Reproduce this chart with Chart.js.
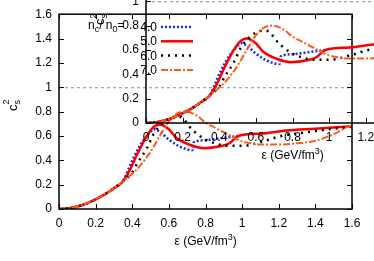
<!DOCTYPE html>
<html lang="en">
<head>
<meta charset="UTF-8">
<title>cs2 vs energy density</title>
<script src="https://cdn.jsdelivr.net/npm/chart.js"></script>
<style>
  body { margin: 0; background: #fff; }
  #wrap { position: relative; width: 374px; height: 261px; overflow: hidden; background: #fff; }
  #wrap canvas { position: absolute; }
  #mainChart { left: 0; top: 0; }
  /* the inset is the same plot, shifted up and right */
  #insetChart { left: 87px; top: -86px; }
</style>
</head>
<body>
<div id="wrap">
  <canvas id="mainChart" width="374" height="261"></canvas>
  <canvas id="insetChart" width="374" height="261"></canvas>
</div>
<script>
// low density part, the same for every n_c/n_0
const epsCommon = [0, 0.05, 0.1, 0.15, 0.2, 0.25, 0.3, 0.35];
const csCommon  = [0, 0.005, 0.02, 0.045, 0.08, 0.12, 0.17, 0.23];

// n_c/n_0 = 4.0
const eps40 = [0.38, 0.40, 0.45, 0.50, 0.52, 0.55, 0.60, 0.65, 0.70, 0.73, 0.735, 0.80, 0.90, 0.98];
const cs40  = [0.33, 0.40, 0.54, 0.635, 0.655, 0.635, 0.57, 0.52, 0.49, 0.485, 0.545, 0.565, 0.585, 0.60];
// n_c/n_0 = 5.0
const eps50 = [0.39, 0.43, 0.48, 0.51, 0.55, 0.60, 0.64, 0.71, 0.79, 0.88, 0.93, 0.98, 1.11, 1.24, 1.4, 1.6];
const cs50  = [0.33, 0.46, 0.60, 0.665, 0.695, 0.655, 0.585, 0.53, 0.50, 0.515, 0.54, 0.60, 0.62, 0.645, 0.66, 0.68];
// n_c/n_0 = 6.0
const eps60 = [0.40, 0.43, 0.48, 0.52, 0.57, 0.61, 0.65, 0.68, 0.71, 0.76, 0.80, 0.86, 0.91, 0.98, 1.04, 1.1, 1.15, 1.2, 1.3, 1.4, 1.5, 1.6];
const cs60  = [0.30, 0.38, 0.50, 0.625, 0.71, 0.75, 0.76, 0.74, 0.68, 0.61, 0.57, 0.535, 0.52, 0.52, 0.525, 0.55, 0.57, 0.595, 0.62, 0.64, 0.66, 0.675];
// n_c/n_0 = 7.0
const eps70 = [0.40, 0.44, 0.50, 0.55, 0.60, 0.64, 0.69, 0.75, 0.80, 0.85, 0.90, 0.95, 0.99, 1.05, 1.1, 1.2, 1.3, 1.4, 1.46, 1.52, 1.57, 1.6];
const cs70  = [0.29, 0.35, 0.47, 0.60, 0.72, 0.78, 0.80, 0.77, 0.71, 0.67, 0.63, 0.59, 0.56, 0.54, 0.53, 0.53, 0.54, 0.56, 0.59, 0.63, 0.67, 0.685];

const keyLabels = ['4.0', '5.0', '6.0', '7.0'];
const xTicks = [0, 0.2, 0.4, 0.6, 0.8, 1, 1.2, 1.4, 1.6];
const yTicks = [0, 0.2, 0.4, 0.6, 0.8, 1, 1.2, 1.4, 1.6];

const FONT = '"Liberation Sans", Arial, sans-serif';
const styles = [
  { color: 'rgb(25,40,245)', width: 2.5, dash: [2, 2] },
  { color: 'rgb(250,0,0)', width: 2.5, dash: [] },
  { color: 'rgb(0,0,0)', width: 2.5, dash: [2, 5] },
  { color: 'rgb(255,90,25)', width: 2, dash: [7, 2, 2, 2] }
];

function points(xs, ys) {
  const xAll = epsCommon.concat(xs), yAll = csCommon.concat(ys);
  return xAll.map((x, i) => ({ x: x, y: yAll[i] }));
}

function makeDatasets() {
  const sets = [[eps40, cs40], [eps50, cs50], [eps60, cs60], [eps70, cs70]];
  return sets.map((s, i) => ({
    label: keyLabels[i],
    data: points(s[0], s[1]),
    borderColor: styles[i].color,
    borderWidth: styles[i].width,
    borderDash: styles[i].dash,
    borderCapStyle: 'butt',
    pointRadius: 0,
    cubicInterpolationMode: 'monotone',
    fill: false,
    order: 4 - i
  }));
}

function fmt(v) { return String(+v.toFixed(1)); }

// draws text with a sub/superscript piece, returns the x after it
function piece(ctx, txt, x, y, size, shift) {
  ctx.font = size + 'px ' + FONT;
  ctx.fillText(txt, x, y + shift);
  return x + ctx.measureText(txt).width;
}

const frame = {
  id: 'frame',
  beforeDatasetsDraw(chart) {
    const ctx = chart.ctx, a = chart.chartArea;
    const y1 = chart.scales.y.getPixelForValue(1);
    ctx.save();
    ctx.strokeStyle = '#8c8c8c';
    ctx.lineWidth = 1;
    ctx.setLineDash([3, 3]);
    ctx.beginPath();
    ctx.moveTo(a.left, y1 + 0.5);
    ctx.lineTo(a.right, y1 + 0.5);
    ctx.stroke();
    ctx.restore();
  },
  afterDatasetsDraw(chart, args, opts) {
    const ctx = chart.ctx, a = chart.chartArea;
    const xs = chart.scales.x, ys = chart.scales.y;
    ctx.save();
    ctx.strokeStyle = '#000';
    ctx.lineWidth = 1.5;
    ctx.setLineDash([]);
    ctx.strokeRect(a.left, a.top, a.right - a.left, a.bottom - a.top);
    ctx.lineWidth = 1;
    ctx.beginPath();
    xTicks.forEach(v => {
      const px = Math.round(xs.getPixelForValue(v)) + 0.5;
      ctx.moveTo(px, a.bottom); ctx.lineTo(px, a.bottom - 5);
      ctx.moveTo(px, a.top); ctx.lineTo(px, a.top + 5);
    });
    yTicks.forEach(v => {
      const py = Math.round(ys.getPixelForValue(v)) + 0.5;
      ctx.moveTo(a.left, py); ctx.lineTo(a.left + 5, py);
      ctx.moveTo(a.right, py); ctx.lineTo(a.right - 5, py);
    });
    ctx.stroke();

    // axis titles
    ctx.fillStyle = '#000';
    ctx.textBaseline = 'alphabetic';
    ctx.textAlign = 'left';
    let x = (a.left + a.right) / 2 - 31;
    const yb = a.bottom + 36;
    x = piece(ctx, '\u03b5 (GeV/fm', x, yb, 12, 0);
    x = piece(ctx, '3', x, yb, 9, -5);
    piece(ctx, ')', x, yb, 12, 0);

    ctx.save();
    ctx.translate(17, 111);
    ctx.rotate(-Math.PI / 2);
    let t = piece(ctx, 'c', 0, 0, 13, 0);
    piece(ctx, 's', t, 0, 9, 3);
    piece(ctx, '2', t, 0, 9, -8);
    ctx.restore();

    // key
    if (opts.key) {
      let kx = 88;
      const ky = 29;
      kx = piece(ctx, 'n', kx, ky, 12, 0);
      kx = piece(ctx, 'c', kx, ky, 9, 3);
      kx = piece(ctx, '/ n', kx, ky, 12, 0);
      kx = piece(ctx, '0', kx, ky, 9, 3);
      piece(ctx, '=', kx, ky, 12, 0);
      ctx.font = '12px ' + FONT;
      ctx.textAlign = 'right';
      keyLabels.forEach((lab, i) => {
        const rowY = 27 + i * 14.3;
        ctx.fillText(lab, 157, rowY + 4);
        ctx.strokeStyle = styles[i].color;
        ctx.lineWidth = styles[i].width;
        ctx.setLineDash(styles[i].dash);
        ctx.beginPath();
        ctx.moveTo(161, rowY);
        ctx.lineTo(193, rowY);
        ctx.stroke();
      });
    }
    ctx.restore();
  }
};

function makeChart(id, withKey) {
  return new Chart(document.getElementById(id), {
    type: 'line',
    data: { datasets: makeDatasets() },
    options: {
      responsive: false,
      animation: false,
      devicePixelRatio: 1,
      layout: { padding: { top: 14, right: 22, left: 0, bottom: 0 } },
      plugins: { legend: { display: false }, tooltip: { enabled: false }, frame: { key: withKey } },
      scales: {
        x: {
          type: 'linear', min: 0, max: 1.6,
          grid: { display: false, drawTicks: false },
          border: { display: false },
          afterBuildTicks: s => { s.ticks = xTicks.map(v => ({ value: v })); },
          afterFit: s => { s.height = 52; },
          ticks: { padding: 7, color: '#000', font: { family: FONT, size: 12 }, maxRotation: 0, callback: fmt }
        },
        y: {
          type: 'linear', min: 0, max: 1.6,
          grid: { display: false, drawTicks: false },
          border: { display: false },
          afterBuildTicks: s => { s.ticks = yTicks.map(v => ({ value: v })); },
          afterFit: s => { s.width = 59; },
          ticks: { padding: 7, color: '#000', font: { family: FONT, size: 12 }, callback: fmt }
        }
      }
    },
    plugins: [frame]
  });
}

makeChart('mainChart', true);
makeChart('insetChart', false);
</script>
</body>
</html>
